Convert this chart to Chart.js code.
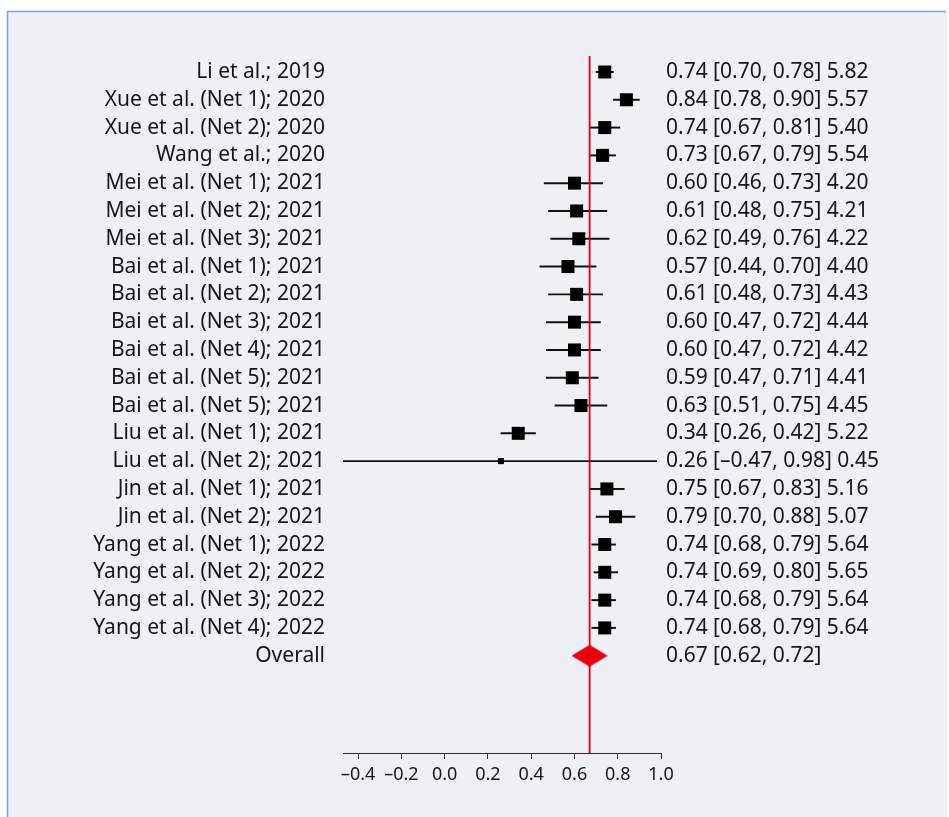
<!DOCTYPE html>
<html>
<head>
<meta charset="utf-8">
<title>Forest plot</title>
<script src="https://cdn.jsdelivr.net/npm/chart.js@4.4.1/dist/chart.umd.min.js"></script>
<style>
    html, body { margin: 0; padding: 0; background: #ffffff; }
    #forest { display: block; }
</style>
</head>
<body>
<canvas id="forest" width="949" height="817"></canvas>
<script>
// Estudos e valores
const studies = [
    'Li et al.; 2019', 'Xue et al. (Net 1); 2020', 'Xue et al. (Net 2); 2020', 'Wang et al.; 2020',
    'Mei et al. (Net 1); 2021', 'Mei et al. (Net 2); 2021', 'Mei et al. (Net 3); 2021',
    'Bai et al. (Net 1); 2021', 'Bai et al. (Net 2); 2021', 'Bai et al. (Net 3); 2021',
    'Bai et al. (Net 4); 2021', 'Bai et al. (Net 5); 2021', 'Bai et al. (Net 5); 2021',
    'Liu et al. (Net 1); 2021', 'Liu et al. (Net 2); 2021', 'Jin et al. (Net 1); 2021',
    'Jin et al. (Net 2); 2021', 'Yang et al. (Net 1); 2022', 'Yang et al. (Net 2); 2022',
    'Yang et al. (Net 3); 2022', 'Yang et al. (Net 4); 2022'
];
const estimates = [0.74, 0.84, 0.74, 0.73, 0.60, 0.61, 0.62, 0.57, 0.61, 0.60, 0.60, 0.59, 0.63, 0.34, 0.26, 0.75, 0.79, 0.74, 0.74, 0.74, 0.74];
const lower     = [0.70, 0.78, 0.67, 0.67, 0.46, 0.48, 0.49, 0.44, 0.48, 0.47, 0.47, 0.47, 0.51, 0.26, -0.47, 0.67, 0.70, 0.68, 0.69, 0.68, 0.68];
const upper     = [0.78, 0.90, 0.81, 0.79, 0.73, 0.75, 0.76, 0.70, 0.73, 0.72, 0.72, 0.71, 0.75, 0.42, 0.98, 0.83, 0.88, 0.79, 0.80, 0.79, 0.79];
const weights   = [5.82, 5.57, 5.40, 5.54, 4.20, 4.21, 4.22, 4.40, 4.43, 4.44, 4.42, 4.41, 4.45, 5.22, 0.45, 5.16, 5.07, 5.64, 5.65, 5.64, 5.64];
const overallLabel = 'Overall';
const overall = [0.67, 0.62, 0.72]; // estimativa, inferior, superior
const xTicks = [-0.4, -0.2, 0.0, 0.2, 0.4, 0.6, 0.8, 1.0];

const FONT = "'Noto Sans', 'Open Sans', sans-serif";
const TEXT = '#161616';
const RED = '#e8000f';

const nRows = studies.length + 1;
const rowIdx = [...Array(nRows).keys()];
const overallRow = studies.length;
const yMin = -0.575;
const yMax = 24.5;

// número com traço para negativos
function fmt(v, d) {
    const s = Math.abs(v).toFixed(d);
    return v < 0 ? '\u2013' + s : s;
}

function leftLabel(i) {
    return i === overallRow ? overallLabel : studies[i];
}

function rightLabel(i) {
    if (i === overallRow) {
        return `${fmt(overall[0], 2)} [${fmt(overall[1], 2)}, ${fmt(overall[2], 2)}]`;
    }
    return `${fmt(estimates[i], 2)} [${fmt(lower[i], 2)}, ${fmt(upper[i], 2)}] ${fmt(weights[i], 2)}`;
}

// lado do quadrado conforme o peso
function squareSide(w) {
    return w < 1 ? 6 : 13;
}

// losango do resultado global
const diamond = document.createElement('canvas');
diamond.width = 36;
diamond.height = 22;
(function() {
    const c = diamond.getContext('2d');
    c.fillStyle = RED;
    c.beginPath();
    c.moveTo(0, 11);
    c.lineTo(18, 0);
    c.lineTo(36, 11);
    c.lineTo(18, 22);
    c.closePath();
    c.fill();
})();

// fundo com borda azul
const fundo = {
    id: 'fundo',
    beforeDraw(chart) {
        const ctx = chart.ctx;
        ctx.save();
        ctx.fillStyle = '#ffffff';
        ctx.fillRect(0, 0, chart.width, chart.height);
        ctx.fillStyle = '#eff0f6';
        ctx.fillRect(7, 11, 940, chart.height - 11);
        ctx.strokeStyle = '#7f9fd1';
        ctx.lineWidth = 1.5;
        ctx.beginPath();
        ctx.moveTo(7.5, chart.height);
        ctx.lineTo(7.5, 11.5);
        ctx.lineTo(946, 11.5);
        ctx.stroke();
        ctx.restore();
    }
};

function rowTicks(scale) {
    scale.ticks = rowIdx.map(v => ({ value: v }));
}

const ctx = document.getElementById('forest').getContext('2d');
new Chart(ctx, {
    type: 'scatter',
    data: {
        datasets: [
            {
                type: 'line',
                data: [{ x: overall[0], y: yMin }, { x: overall[0], y: yMax }],
                borderColor: RED,
                borderWidth: 1.8,
                pointRadius: 0,
                showLine: true,
                order: 1
            },
            {
                type: 'scatter',
                data: [{ x: overall[0], y: overallRow }],
                pointStyle: diamond,
                pointRadius: 18,
                order: 0
            },
            {
                type: 'scatter',
                data: estimates.map((e, i) => ({ x: e, y: i })),
                pointStyle: 'rect',
                pointRadius: c => squareSide(weights[c.dataIndex]) / (2 * Math.SQRT1_2),
                backgroundColor: '#000000',
                borderWidth: 0,
                order: 2
            },
            {
                type: 'bar',
                indexAxis: 'y',
                data: studies.map((s, i) => ({ x: [lower[i], upper[i]], y: i })),
                backgroundColor: '#111111',
                borderWidth: 0,
                barThickness: 1.3,
                order: 3
            }
        ]
    },
    options: {
        responsive: false,
        animation: false,
        events: [],
        layout: { padding: { top: 56, left: 0, right: 0, bottom: 0 } },
        plugins: {
            legend: { display: false },
            tooltip: { enabled: false },
            title: { display: false }
        },
        scales: {
            x: {
                type: 'linear',
                position: 'bottom',
                min: lower[14],
                max: 1.0,
                offset: false,
                beginAtZero: false,
                afterBuildTicks: scale => { scale.ticks = xTicks.map(v => ({ value: v })); },
                afterFit: scale => { scale.height = 64; },
                grid: {
                    display: true,
                    drawOnChartArea: false,
                    drawTicks: true,
                    tickLength: 6,
                    color: '#2b2b2b',
                    offset: false
                },
                border: { display: true, color: '#2b2b2b', width: 1 },
                ticks: {
                    color: TEXT,
                    font: { family: FONT, size: 18 },
                    padding: 5,
                    maxRotation: 0,
                    autoSkip: false,
                    callback: v => fmt(v, 1)
                }
            },
            y: {
                type: 'linear',
                position: 'left',
                reverse: true,
                min: yMin,
                max: yMax,
                offset: false,
                beginAtZero: false,
                afterBuildTicks: rowTicks,
                afterFit: scale => { scale.width = 343; },
                grid: { display: false, drawTicks: false, tickLength: 0, offset: false },
                border: { display: false },
                ticks: {
                    color: TEXT,
                    font: { family: FONT, size: 21 },
                    padding: 18,
                    autoSkip: false,
                    callback: v => leftLabel(v)
                }
            },
            yR: {
                type: 'linear',
                position: 'right',
                reverse: true,
                min: yMin,
                max: yMax,
                afterBuildTicks: rowTicks,
                afterFit: scale => { scale.width = 288; },
                grid: { display: false, drawTicks: false, tickLength: 0 },
                border: { display: false },
                ticks: {
                    color: TEXT,
                    font: { family: FONT, size: 21 },
                    padding: 5,
                    autoSkip: false,
                    callback: v => rightLabel(v)
                }
            }
        }
    },
    plugins: [fundo]
});
</script>
</body>
</html>
